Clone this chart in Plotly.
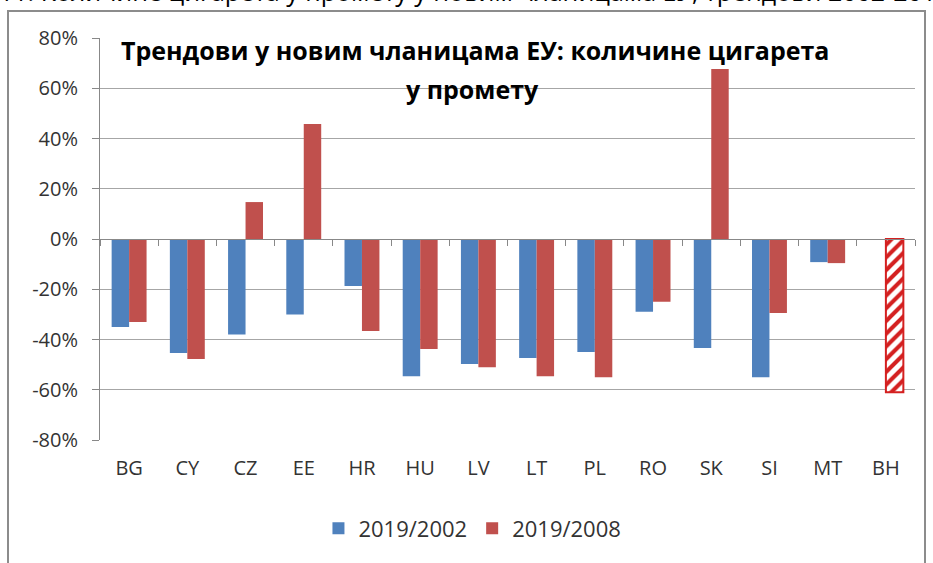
import plotly.graph_objects as go

countries = ['BG', 'CY', 'CZ', 'EE', 'HR', 'HU', 'LV', 'LT', 'PL', 'RO', 'SK', 'SI', 'MT', 'BH']
trend_2002 = [-0.35, -0.454, -0.38, -0.30, -0.187, -0.546, -0.498, -0.474, -0.45, -0.29, -0.434, -0.55, -0.092, None]
trend_2008 = [-0.33, -0.478, 0.147, 0.458, -0.366, -0.438, -0.51, -0.546, -0.55, -0.25, 0.677, -0.295, -0.096, -0.61]
y_ticks = [-0.8, -0.6, -0.4, -0.2, 0, 0.2, 0.4, 0.6, 0.8]
y_tick_labels = ['-80%', '-60%', '-40%', '-20%', '0%', '20%', '40%', '60%', '80%']

BLUE = '#4F81BD'
RED = '#C0504D'
FONT = 'Open Sans'

# BH has no 2019/2002 value; its 2019/2008 bar is hatched
hatched = [c == 'BH' for c in countries]

fig = go.Figure()
fig.add_trace(go.Bar(
    x=countries, y=trend_2002, name='2019/2002',
    marker=dict(color=BLUE, line=dict(width=0)),
))
fig.add_trace(go.Bar(
    x=countries, y=trend_2008, name='2019/2008',
    marker=dict(
        color=RED,
        line=dict(color=['#D42020' if h else RED for h in hatched],
                  width=[2 if h else 0 for h in hatched]),
        pattern=dict(
            shape=['/' if h else '' for h in hatched],
            fgcolor=['#D42020' if h else RED for h in hatched],
            bgcolor=['white' if h else RED for h in hatched],
            fillmode='replace', size=9, solidity=0.45,
        ),
    ),
))

# axis across 0% with tick marks between categories
fig.add_trace(go.Scatter(x=[None], y=[None], xaxis='x2', showlegend=False, hoverinfo='skip'))

fig.update_layout(
    width=933, height=563,
    margin=dict(l=100, r=18, t=38, b=123, autoexpand=False),
    paper_bgcolor='white', plot_bgcolor='white',
    barmode='group', bargap=0.4, bargroupgap=0,
    font=dict(family=FONT, color='#333333'),
    showlegend=True,
    legend=dict(orientation='h', x=0.457, xanchor='center', y=-0.22, yanchor='middle',
                font=dict(size=22, color='#333333'), itemwidth=30, traceorder='normal'),
    xaxis=dict(
        type='category', showgrid=False, showline=False, zeroline=False, automargin=False,
        ticks='', tickfont=dict(size=20, color='#333333'), ticklabelstandoff=14,
    ),
    xaxis2=dict(
        overlaying='x', anchor='free', position=0.5, range=[-0.5, 13.5],
        showline=True, linecolor='#888888', linewidth=1, automargin=False,
        ticks='outside', ticklen=6, tickcolor='#888888',
        tickvals=[i - 0.5 for i in range(len(countries) + 1)],
        showticklabels=False, showgrid=False, zeroline=False, side='bottom',
    ),
    yaxis=dict(
        range=[-0.8, 0.8], tickvals=y_ticks, ticktext=y_tick_labels, automargin=False,
        showgrid=True, gridcolor='#a6a6a6', gridwidth=1,
        showline=True, linecolor='#888888', linewidth=1,
        ticks='outside', ticklen=7, tickcolor='#888888',
        zeroline=False, tickfont=dict(size=20, color='#333333'), ticklabelstandoff=10,
    ),
)

fig.add_annotation(
    text='<b>Трендови у новим чланицама ЕУ: количине цигарета</b>',
    xref='paper', yref='paper', x=(475 - 100) / 815, y=(440 - 50) / 402,
    xanchor='center', yanchor='middle', showarrow=False,
    font=dict(size=25, color='black', family=FONT),
)
fig.add_annotation(
    text='<b>у промету</b>',
    xref='paper', yref='paper', x=(472 - 100) / 815, y=(440 - 89) / 402,
    xanchor='center', yanchor='middle', showarrow=False,
    font=dict(size=25, color='black', family=FONT),
)
# cropped caption above the chart frame
fig.add_annotation(
    text='11. Количине цигарета у промету у новим чланицама ЕУ, трендови 2002-2019',
    xref='paper', yref='paper', x=(-3 - 100) / 815, y=(440 - 10.5) / 402,
    xanchor='left', yanchor='bottom', showarrow=False,
    font=dict(size=25, color='black', family=FONT),
)

# outer chart frame
fig.add_shape(
    type='rect', xref='paper', yref='paper',
    x0=(8 - 100) / 815, x1=(925 - 100) / 815,
    y0=(440 - 570) / 402, y1=(440 - 11) / 402,
    line=dict(color='#8c8c8c', width=2), fillcolor='rgba(0,0,0,0)', layer='below',
)

# drop the default page margin so the figure sits at the window's corner
fig.write_html('out.html', config={'displayModeBar': False},
               post_script="document.body.style.margin='0';")
